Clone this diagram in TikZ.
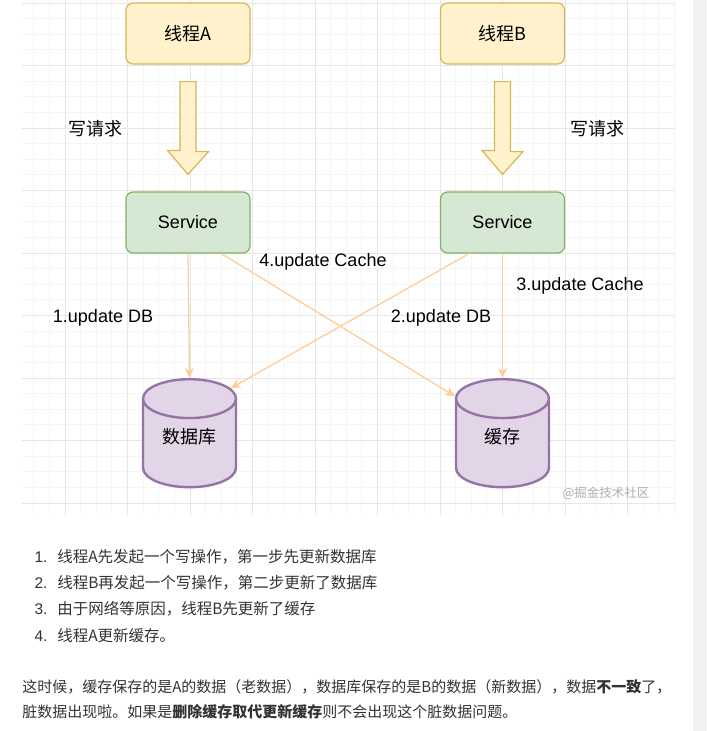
\documentclass[tikz,border=0pt]{standalone}
\usepackage{fontspec}
\setmainfont{Liberation Sans}
\newfontfamily\cjk{Noto Sans CJK SC}
\usetikzlibrary{arrows.meta,positioning,calc,shapes.geometric}

\definecolor{thrfill}{HTML}{FFF2CC}
\definecolor{thrline}{HTML}{D6B656}
\definecolor{svcfill}{HTML}{D5E8D4}
\definecolor{svcline}{HTML}{82B366}
\definecolor{dbfill}{HTML}{E1D5E7}
\definecolor{dbline}{HTML}{9673A6}
\definecolor{flowline}{HTML}{FFCC99}
\definecolor{gridmajor}{HTML}{E6E6E6}
\definecolor{gridminor}{HTML}{F5F5F5}
\definecolor{bodytext}{HTML}{333333}
\definecolor{scrollbg}{HTML}{F1F3F2}

\begin{document}
\begin{tikzpicture}[x=1pt, y=-1pt, >={Stealth[length=10pt,width=9pt,inset=3pt]}, semithick,
        thread/.style={rectangle,rounded corners=7pt,draw=thrline,fill=thrfill,line width=1.2pt,
            minimum width=124pt,minimum height=61pt,font=\cjk\fontsize{18}{20}\selectfont},
        service/.style={rectangle,rounded corners=7pt,draw=svcline,fill=svcfill,line width=1.2pt,
            minimum width=124pt,minimum height=61pt,font=\fontsize{18}{20}\selectfont},
        store/.style={cylinder,shape border rotate=90,aspect=0.62,draw=dbline,fill=dbfill,line width=2.4pt,
            minimum width=93pt,minimum height=108pt,anchor=north,text width=56pt,align=center,
            text height=13pt,text depth=20pt,font=\cjk\fontsize{18}{20}\selectfont},
        blockarrow/.style={draw=thrline,fill=thrfill,line width=1.2pt,line join=miter},
        flow/.style={draw=flowline,line width=1.3pt,->},
        steplabel/.style={font=\fontsize{18}{20}\selectfont},
        cjklabel/.style={font=\cjk\fontsize{18}{20}\selectfont},
        listnum/.style={font=\fontsize{15.5}{18}\selectfont,text=bodytext},
        listitem/.style={anchor=west,inner sep=0pt,font=\cjk\fontsize{15.5}{18}\selectfont,text=bodytext}]

        \useasboundingbox (0,0) rectangle (707,731);

        % grid background
        \foreach \gx in {33.75,49.375,...,675} \draw[gridminor,line width=0.8pt] (\gx,0) -- (\gx,515);
        \foreach \gy in {3,18.625,...,515} \draw[gridminor,line width=0.8pt] (22,\gy) -- (675,\gy);
        \foreach \gx in {65,127.5,...,675} \draw[gridmajor,line width=1pt] (\gx,0) -- (\gx,515);
        \foreach \gy in {3,65.5,...,515} \draw[gridmajor,line width=1pt] (22,\gy) -- (675,\gy);
        \fill[scrollbg] (693,0) rectangle (707,731);

        \node[thread] (thrA) at (188,33.5) {线程A};
        \node[thread] (thrB) at (502.5,33.5) {线程B};
        \node[service] (svcA) at (188,222.5) {Service};
        \node[service] (svcB) at (502.5,222.5) {Service};
        \node[store] (db) at (189.5,378) {数据库};
        \node[store] (cache) at (502.5,378) {缓存};

        % write requests
        \draw[blockarrow] ($(thrA.south)+(-8,17)$) -- ++(16,0) -- ++(0,70) -- ++(12.5,0)
            -- ($(svcA.north)+(0,-17)$) -- ++(-20.5,-24) -- ++(12.5,0) -- cycle;
        \draw[blockarrow] ($(thrB.south)+(-8,17)$) -- ++(16,0) -- ++(0,70) -- ++(12.5,0)
            -- ($(svcB.north)+(0,-17)$) -- ++(-20.5,-24) -- ++(12.5,0) -- cycle;
        \node[cjklabel] (reqA) at (95,129) {写请求};
        \node[cjklabel] (reqB) at (597,129) {写请求};

        % updates
        \draw[flow] (svcA.south) -- (db.north);
        \draw[flow] (svcB.-137) -- (db.55);
        \draw[flow] (svcB.south) -- (cache.north);
        \draw[flow] (svcA.-43) -- (cache.133);
        \node[steplabel] (upd1) at (103,318) {1.update DB};
        \node[steplabel] (upd2) at (441,318) {2.update DB};
        \node[steplabel] (upd3) at (580,286) {3.update Cache};
        \node[steplabel] (upd4) at (323,262) {4.update Cache};

        \node[font=\cjk\fontsize{12.5}{14}\selectfont,text=black!32] (mark) at (606,493) {@掘金技术社区};

        % text below
        \node[listnum] (n1) at (41,557) {1.};
        \node[listnum] (n2) at (41,583) {2.};
        \node[listnum] (n3) at (41,609) {3.};
        \node[listnum] (n4) at (41,636) {4.};
        \node[listitem] (i1) at (57,557) {线程A先发起一个写操作，第一步先更新数据库};
        \node[listitem] (i2) at (57,583) {线程B再发起一个写操作，第二步更新了数据库};
        \node[listitem] (i3) at (57,609) {由于网络等原因，线程B先更新了缓存};
        \node[listitem] (i4) at (57,636) {线程A更新缓存。};
        \node[listitem,font=\cjk\fontsize{15}{18}\selectfont] (p1) at (22,687)
            {这时候，缓存保存的是A的数据（老数据），数据库保存的是B的数据（新数据），数据{\bfseries 不一致}了，};
        \node[listitem,font=\cjk\fontsize{15}{18}\selectfont] (p2) at (22,712)
            {脏数据出现啦。如果是{\bfseries 删除缓存取代更新缓存}则不会出现这个脏数据问题。};
\end{tikzpicture}
\end{document}
